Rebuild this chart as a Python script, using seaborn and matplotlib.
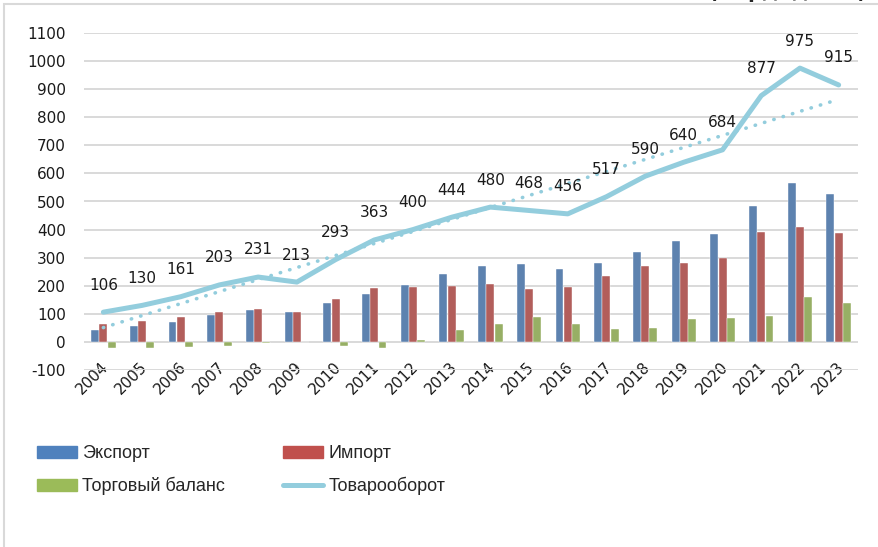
import numpy as np
import pandas as pd
import seaborn as sns
import matplotlib.pyplot as plt
from matplotlib.patches import Patch, Rectangle
from matplotlib.lines import Line2D
from matplotlib.transforms import ScaledTranslation

years = [str(y) for y in range(2004, 2024)]
eksport = [43, 55, 71, 95, 114, 107, 139, 171, 204, 243, 272, 279, 260, 281, 320, 360, 384, 484, 567, 527]
import_ = [63, 76, 89, 108, 117, 106, 154, 192, 196, 200, 208, 189, 196, 236, 270, 280, 300, 393, 408, 388]
balans = [-20, -21, -18, -13, -3, 1, -15, -21, 8, 44, 64, 90, 64, 45, 50, 80, 84, 91, 159, 139]
oborot = [106, 130, 161, 203, 231, 213, 293, 363, 400, 444, 480, 468, 456, 517, 590, 640, 684, 877, 975, 915]

series_names = ["Экспорт", "Импорт", "Торговый баланс"]
colors = ["#4F81BD", "#C0504D", "#9BBB59"]
line_color = "#93CDDD"

sns.set_style("white")
plt.rcParams["font.family"] = ["DejaVu Sans"]
plt.rcParams["axes.unicode_minus"] = False

df = pd.DataFrame({"год": years * 3,
                   "значение": eksport + import_ + balans,
                   "ряд": np.repeat(series_names, len(years))})

fig = plt.figure(figsize=(8.79, 5.47), dpi=100)
ax = fig.add_axes([84 / 879, 1 - 370 / 547, 774 / 879, 337 / 547])

sns.barplot(data=df, x="год", y="значение", hue="ряд", hue_order=series_names,
            palette=colors, width=0.64, gap=0.04, edgecolor="white", linewidth=0.3,
            ax=ax, legend=False, zorder=3)

xs = np.arange(len(years))
# линейный тренд товарооборота
k, b = np.polyfit(xs, oborot, 1)
ax.plot(xs, k * xs + b, color=line_color, lw=2.6, linestyle=(0, (0.1, 2.6)),
        dash_capstyle="round", zorder=4)
sns.lineplot(x=xs, y=oborot, color=line_color, lw=3.6, ax=ax, zorder=5,
             solid_capstyle="round", solid_joinstyle="round")

for x, v in zip(xs, oborot):
    ax.annotate(str(v), (x, v), xytext=(0, 19.5), textcoords="offset points",
                ha="center", va="center", fontsize=11, color="#1a1a1a", zorder=6)

ax.set_ylim(-100, 1100)
ax.set_xlim(-0.5, len(years) - 0.5)
ax.set_yticks(range(-100, 1101, 100))
ax.yaxis.grid(True, color="#D9D9D9", lw=1.4, zorder=0)
ax.set_axisbelow(True)
sns.despine(ax=ax, left=True, bottom=True)
ax.set_xlabel("")
ax.set_ylabel("")
ax.tick_params(axis="y", length=0, pad=13, labelsize=11, labelcolor="#1a1a1a")
ax.tick_params(axis="x", length=0, pad=-4, labelsize=11, labelcolor="#1a1a1a")
shift = ScaledTranslation(3 / 100, 0, fig.dpi_scale_trans)
for lab in ax.get_xticklabels():
    lab.set_rotation(45)
    lab.set_ha("right")
    lab.set_va("center")
    lab.set_rotation_mode("anchor")
    lab.set_transform(lab.get_transform() + shift)

# легенда в две колонки
leg_font = {"family": ["Liberation Sans"], "size": 13}
h1 = [Patch(color=colors[0]), Patch(color=colors[2])]
h2 = [Patch(color=colors[1]), Line2D([], [], color=line_color, lw=3.6, solid_capstyle="round")]
fig.legend(h1, ["Экспорт", "Торговый баланс"], loc="center left",
           bbox_to_anchor=(21 / 879, 1 - 470 / 547), frameon=False, prop=leg_font,
           handlelength=2.2, handleheight=0.65, handletextpad=0.3, labelspacing=0.8)
fig.legend(h2, ["Импорт", "Товарооборот"], loc="center left",
           bbox_to_anchor=(267 / 879, 1 - 470 / 547), frameon=False, prop=leg_font,
           handlelength=2.2, handleheight=0.65, handletextpad=0.3, labelspacing=0.8)

# рамка и обрезанный заголовок
fig.patches.append(Rectangle((4 / 879, -0.05), 1.1, 1.05 - 4 / 547, transform=fig.transFigure,
                             fill=False, edgecolor="#D9D9D9", lw=1.5))
fig.text(866 / 879, 1 + 1.5 / 547, "(млрд. долл.)", ha="right", va="baseline",
         fontsize=14, fontweight="bold")

fig.savefig("out.png", dpi=100)
